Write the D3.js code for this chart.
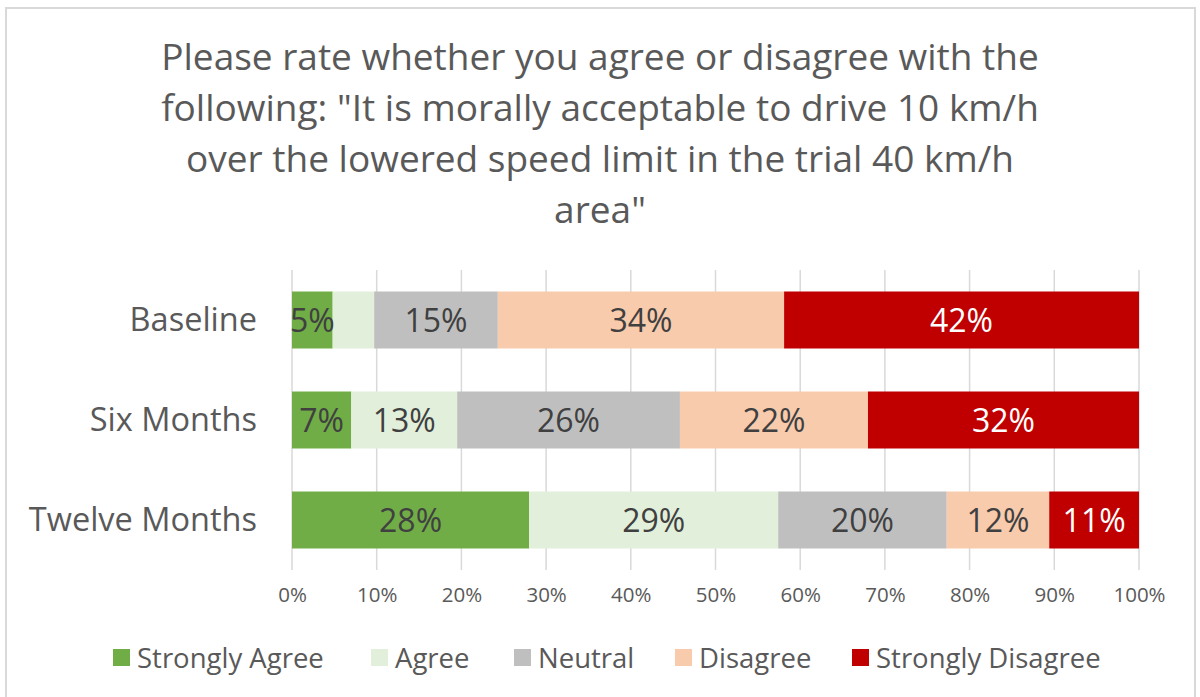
<!DOCTYPE html>
<html>
<head>
<meta charset="utf-8">
<script src="https://cdn.jsdelivr.net/npm/d3@7"></script>
<style>
  body { margin: 0; background: #fff; }
  svg { font-family: "Open Sans", "Noto Sans", sans-serif; }
</style>
</head>
<body>
<svg id="chart" width="1200" height="697"></svg>
<script>
// data
var categories = ['Baseline', 'Six Months', 'Twelve Months'];
var responses = ['Strongly Agree', 'Agree', 'Neutral', 'Disagree', 'Strongly Disagree'];
var colors = ['#70ad47', '#e2efda', '#bfbfbf', '#f8cbad', '#c00000'];
var stronglyAgree = [0.048, 0.070, 0.280];
var agree = [0.049, 0.125, 0.294];
var neutral = [0.146, 0.263, 0.199];
var disagree = [0.338, 0.222, 0.121];
var stronglyDisagree = [0.419, 0.320, 0.106];
var hiddenLabels = [['Baseline', 'Agree']]; // label deleted in the original
var xTicks = [0, 0.1, 0.2, 0.3, 0.4, 0.5, 0.6, 0.7, 0.8, 0.9, 1];
var titleLines = [
  'Please rate whether you agree or disagree with the',
  'following: "It is morally acceptable to drive 10 km/h',
  'over the lowered speed limit in the trial 40 km/h',
  'area"'
];

var seriesValues = [stronglyAgree, agree, neutral, disagree, stronglyDisagree];
var rows = categories.map(function(c, i) {
  var row = { category: c };
  responses.forEach(function(r, j) { row[r] = seriesValues[j][i]; });
  return row;
});

var svg = d3.select('#chart');

// outer frame
svg.append('rect')
  .attr('x', 6).attr('y', 8)
  .attr('width', 1189).attr('height', 700)
  .attr('fill', 'none')
  .attr('stroke', '#d9d9d9')
  .attr('stroke-width', 2);

// title
svg.append('text')
  .attr('text-anchor', 'middle')
  .attr('fill', '#595959')
  .style('font-size', '37px')
  .selectAll('tspan')
  .data(titleLines)
  .enter().append('tspan')
  .attr('x', 600)
  .attr('y', function(d, i) { return 70 + i * 51; })
  .text(function(d) { return d; });

var left = 292, right = 1139;
var x = d3.scaleLinear().domain([0, 1]).range([left, right]);
var y = d3.scaleBand().domain(categories).range([270, 570]).paddingInner(0.43).paddingOuter(0.215);

// gridlines
svg.append('g')
  .selectAll('line')
  .data(xTicks)
  .enter().append('line')
  .attr('x1', function(d) { return x(d); })
  .attr('x2', function(d) { return x(d); })
  .attr('y1', 270).attr('y2', 570)
  .attr('stroke', '#d9d9d9')
  .attr('stroke-width', 1.5);

// x axis labels
var xAxis = d3.axisBottom(x).tickValues(xTicks).tickFormat(d3.format('.0%')).tickSize(0).tickPadding(0);
var gx = svg.append('g').attr('transform', 'translate(0,587)').call(xAxis);
gx.select('.domain').remove();
gx.selectAll('text')
  .attr('fill', '#595959')
  .style('font-size', '20.5px')
  .style('font-family', '"Open Sans", "Noto Sans", sans-serif');

// y axis labels
var yAxis = d3.axisLeft(y).tickSize(0).tickPadding(0);
var gy = svg.append('g').attr('transform', 'translate(257,0)').call(yAxis);
gy.select('.domain').remove();
gy.selectAll('text')
  .attr('fill', '#595959')
  .attr('dy', '0.35em')
  .style('font-size', '32.5px')
  .style('font-family', '"Open Sans", "Noto Sans", sans-serif');

// stacked bars
var stack = d3.stack().keys(responses);
var layers = stack(rows);

var layer = svg.append('g')
  .selectAll('g')
  .data(layers)
  .enter().append('g')
  .attr('fill', function(d, i) { return colors[i]; });

layer.selectAll('rect')
  .data(function(d) { return d; })
  .enter().append('rect')
  .attr('x', function(d) { return x(d[0]); })
  .attr('y', function(d) { return y(d.data.category); })
  .attr('width', function(d) { return x(d[1]) - x(d[0]); })
  .attr('height', y.bandwidth());

// data labels
layers.forEach(function(l, i) {
  svg.append('g')
    .selectAll('text')
    .data(l.filter(function(d) {
      return !hiddenLabels.some(function(h) { return h[0] === d.data.category && h[1] === l.key; });
    }))
    .enter().append('text')
    .attr('x', function(d) { return (x(d[0]) + x(d[1])) / 2; })
    .attr('y', function(d) { return y(d.data.category) + y.bandwidth() / 2; })
    .attr('dy', '0.36em')
    .attr('text-anchor', 'middle')
    .attr('fill', i === 4 ? '#ffffff' : '#404040')
    .style('font-size', '32px')
    .text(function(d) { return d3.format('.0%')(d[1] - d[0]); });
});

// legend
var legendX = [113, 371, 514, 675, 852];
var legend = svg.append('g')
  .selectAll('g')
  .data(responses)
  .enter().append('g')
  .attr('transform', function(d, i) { return 'translate(' + legendX[i] + ',658)'; });
legend.append('rect')
  .attr('x', 0).attr('y', -9)
  .attr('width', 17).attr('height', 17)
  .attr('fill', function(d, i) { return colors[i]; });
legend.append('text')
  .attr('x', 24)
  .attr('dy', '0.35em')
  .attr('fill', '#595959')
  .style('font-size', '27.5px')
  .text(function(d) { return d; });
</script>
</body>
</html>
